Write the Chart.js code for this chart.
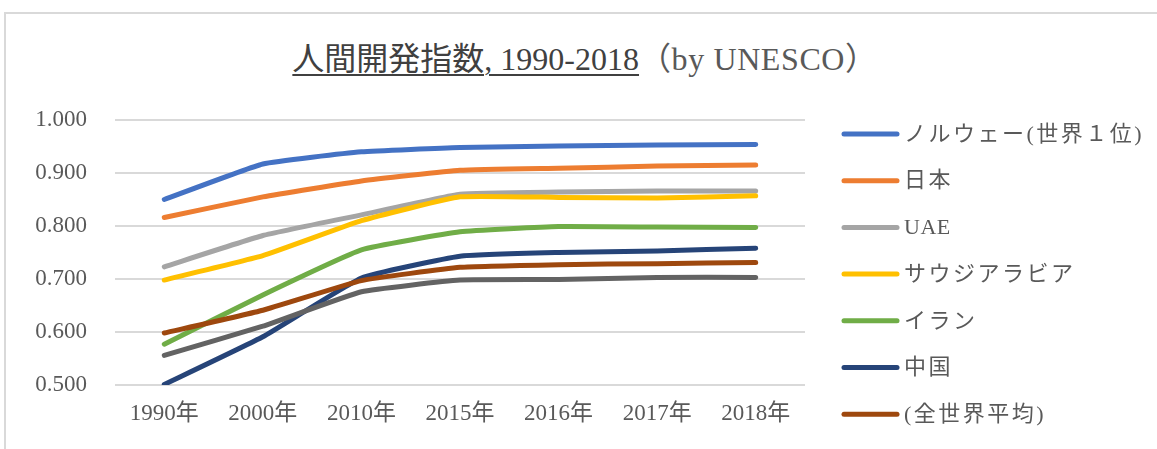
<!DOCTYPE html>
<html>
<head>
<meta charset="utf-8">
<script src="https://cdn.jsdelivr.net/npm/chart.js@4/dist/chart.umd.min.js"></script>
<style>
  html, body { margin: 0; padding: 0; background: #fff; }
  #wrap { position: relative; width: 1157px; height: 449px; overflow: hidden; }
  #frame { position: absolute; left: 4px; top: 12px; width: 1200px; height: 500px;
           border-left: 2px solid #d9d9d9; border-top: 2px solid #d9d9d9; box-sizing: border-box; }
  #title { position: absolute; left: 0; width: 1170px; top: 39px; text-align: center;
           font-family: 'Liberation Serif', 'Noto Sans CJK JP', serif; font-size: 32px; line-height: 40px; white-space: nowrap; }
  #title .main { color: #404040; text-decoration: underline; text-decoration-thickness: 2px; text-underline-offset: 4px; }
  #title .sub { color: #595959; letter-spacing: 0.6px; }
  #cv { position: absolute; left: 0; top: 0; }
</style>
</head>
<body>
<div id="wrap">
  <div id="frame"></div>
  <div id="title"><span class="main">人間開発指数, 1990-2018</span><span class="sub">（by UNESCO）</span></div>
  <canvas id="cv" width="1157" height="449"></canvas>
</div>
<script>
const categories = ['1990年', '2000年', '2010年', '2015年', '2016年', '2017年', '2018年'];
const seriesNames = ['ノルウェー(世界１位)', '日本', 'UAE', 'サウジアラビア', 'イラン', '中国', '(全世界平均)', '(アラブ諸国平均)'];
const norway = [0.850, 0.917, 0.940, 0.948, 0.951, 0.953, 0.954];
const japan  = [0.816, 0.855, 0.885, 0.905, 0.909, 0.913, 0.915];
const uae    = [0.723, 0.782, 0.821, 0.860, 0.864, 0.866, 0.866];
const saudi  = [0.698, 0.744, 0.810, 0.855, 0.854, 0.853, 0.857];
const iran   = [0.577, 0.670, 0.755, 0.789, 0.799, 0.798, 0.797];
const china  = [0.501, 0.591, 0.702, 0.743, 0.750, 0.753, 0.758];
const world  = [0.598, 0.641, 0.697, 0.722, 0.727, 0.729, 0.731];
const arab   = [0.556, 0.611, 0.676, 0.698, 0.699, 0.703, 0.703];
const yTicks = [0.5, 0.6, 0.7, 0.8, 0.9, 1.0];

const seriesValues = [norway, japan, uae, saudi, iran, china, world, arab];
const colors = ['#4472C4', '#ED7D31', '#A5A5A5', '#FFC000', '#70AD47', '#264478', '#9E480E', '#636363'];
const inLegend = [true, true, true, true, true, true, true, false];

const FONT = "'Liberation Serif', 'Noto Sans CJK JP', serif";
const TXT = '#595959';

const datasets = seriesValues.map((vals, i) => ({
  label: seriesNames[i],
  data: vals,
  borderColor: colors[i],
  backgroundColor: colors[i],
  borderWidth: 5,
  borderCapStyle: 'round',
  borderJoinStyle: 'round',
  pointRadius: 0,
  pointHoverRadius: 0,
  tension: 0.12,
  fill: false,
  order: seriesValues.length - i
}));

const legendPlugin = {
  id: 'customLegend',
  afterDraw(chart) {
    const ctx = chart.ctx;
    ctx.save();
    let row = 0;
    chart.data.datasets.forEach((ds, i) => {
      if (!inLegend[i]) return;
      const y = 134 + row * 46.7;
      ctx.strokeStyle = ds.borderColor;
      ctx.lineWidth = 5;
      ctx.lineCap = 'round';
      ctx.beginPath();
      ctx.moveTo(844, y);
      ctx.lineTo(897, y);
      ctx.stroke();
      ctx.fillStyle = TXT;
      ctx.font = '22px ' + FONT;
      const ascii = /^[\x00-\x7F]+$/.test(ds.label);
      if ('letterSpacing' in ctx) ctx.letterSpacing = ascii ? '0.5px' : '2.5px';
      ctx.textBaseline = 'middle';
      ctx.textAlign = 'left';
      ctx.fillText(ds.label, 904, y + 1);
      row++;
    });
    ctx.restore();
  }
};

new Chart(document.getElementById('cv'), {
  type: 'line',
  data: { labels: categories, datasets },
  options: {
    responsive: false,
    animation: false,
    events: [],
    layout: { padding: { left: 0, right: 352, top: 120, bottom: 0 } },
    plugins: { legend: { display: false }, title: { display: false }, tooltip: { enabled: false } },
    scales: {
      x: {
        offset: true,
        grid: { display: false, drawTicks: false },
        border: { display: false },
        ticks: { color: TXT, font: { family: FONT, size: 23 }, padding: 15, maxRotation: 0, autoSkip: false },
        afterFit(s) { s.height = 64; }
      },
      y: {
        min: 0.5, max: 1.0,
        afterBuildTicks(s) { s.ticks = yTicks.map(v => ({ value: v })); },
        grid: { color: '#d9d9d9', lineWidth: 2, drawTicks: false },
        border: { display: false },
        ticks: { color: TXT, font: { family: FONT, size: 23 }, padding: 28, callback: v => Number(v).toFixed(3) },
        afterFit(s) { s.width = 115; }
      }
    }
  },
  plugins: [legendPlugin]
});
</script>
</body>
</html>
